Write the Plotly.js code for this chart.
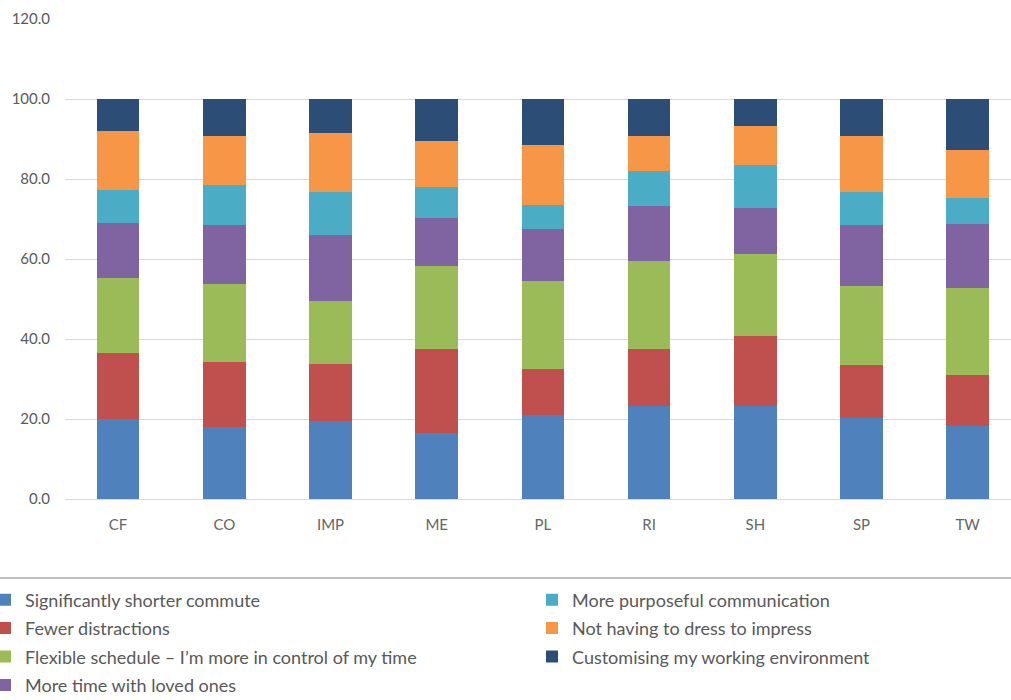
<!DOCTYPE html>
<html>
<head>
<meta charset="utf-8">
<script src="https://cdn.plot.ly/plotly-3.0.1.min.js"></script>
<style>html,body{margin:0;padding:0;background:#fff;}#chart{width:1011px;height:700px;}</style>
</head>
<body>
<div id="chart"></div>
<script>
const categories = ["CF", "CO", "IMP", "ME", "PL", "RI", "SH", "SP", "TW"];
const shorterCommute   = [20.0, 17.9, 19.4, 16.6, 20.9, 23.2, 23.3, 20.3, 18.2];
const fewerDistractions= [16.5, 16.3, 14.4, 20.9, 11.7, 14.3, 17.5, 13.2, 12.9];
const flexibleSchedule = [18.8, 19.6, 15.6, 20.8, 22.0, 22.1, 20.4, 19.7, 21.7];
const lovedOnes        = [13.7, 14.6, 16.5, 12.0, 12.9, 13.7, 11.6, 15.2, 16.0];
const communication    = [8.2, 10.2, 10.9, 7.6, 6.1, 8.8, 10.7, 8.4, 6.5];
const dressToImpress   = [14.9, 12.2, 14.7, 11.7, 14.8, 8.7, 9.8, 14.0, 11.9];
const customising      = [7.9, 9.2, 8.5, 10.4, 11.6, 9.2, 6.7, 9.2, 12.8];
const seriesNames = [
  "Significantly shorter commute",
  "Fewer distractions",
  "Flexible schedule \u2013 I\u2019m more in control of my time",
  "More time with loved ones",
  "More purposeful communication",
  "Not having to dress to impress",
  "Customising my working environment"
];
const seriesValues = [shorterCommute, fewerDistractions, flexibleSchedule, lovedOnes, communication, dressToImpress, customising];
const colors = ["#4F81BD", "#C0504D", "#9BBB59", "#8064A2", "#4BACC6", "#F79646", "#2C4D75"];

const traces = seriesValues.map((vals, i) => ({
  type: "bar",
  name: seriesNames[i],
  x: categories,
  y: vals,
  marker: {color: colors[i], line: {width: 0}},
  legend: i < 4 ? "legend" : "legend2",
  legendgroup: "g" + i,
  hoverinfo: "x+y+name"
}));

const W = 1011, ML = 65, PW = W - ML;
const legendFont = {family: "Lato, 'Noto Sans', sans-serif", size: 18, color: "#595959"};
const legendY = (499 - 581.5) / 480;
const layout = {
  width: 1011, height: 700,
  margin: {l: ML, r: 0, t: 19, b: 201, autoexpand: false},
  paper_bgcolor: "#ffffff", plot_bgcolor: "#ffffff",
  barmode: "stack",
  bargap: 0.6,
  font: {family: "Lato, 'Noto Sans', sans-serif", color: "#595959", size: 15},
  xaxis: {
    range: [-0.5, -0.5 + PW / 106.2],
    showgrid: false, showline: false, zeroline: false,
    ticks: "", tickfont: {size: 15, color: "#666666"},
    ticklabelstandoff: 15, fixedrange: true
  },
  yaxis: {
    range: [0, 120], dtick: 20, tickformat: ".1f",
    showgrid: true, gridcolor: "#D9D9D9", gridwidth: 1,
    zeroline: true, zerolinecolor: "#D9D9D9", zerolinewidth: 1,
    showline: false, ticks: "",
    tickfont: {size: 15, color: "#595959"},
    ticklabelstandoff: 14, fixedrange: true
  },
  showlegend: true,
  legend: {
    x: (-15 - ML) / PW, xanchor: "left",
    y: legendY, yanchor: "top",
    orientation: "v", traceorder: "grouped", tracegroupgap: 2,
    font: legendFont, bgcolor: "rgba(0,0,0,0)"
  },
  legend2: {
    x: (532 - ML) / PW, xanchor: "left",
    y: legendY, yanchor: "top",
    orientation: "v", traceorder: "grouped", tracegroupgap: 2,
    font: legendFont, bgcolor: "rgba(0,0,0,0)"
  },
  shapes: [{
    type: "line", xref: "paper", yref: "paper",
    x0: -ML / PW, x1: 1, y0: (499 - 578) / 480, y1: (499 - 578) / 480,
    line: {color: "#7F7F7F", width: 1}
  }]
};
Plotly.newPlot("chart", traces, layout, {displayModeBar: false});
</script>
</body>
</html>
